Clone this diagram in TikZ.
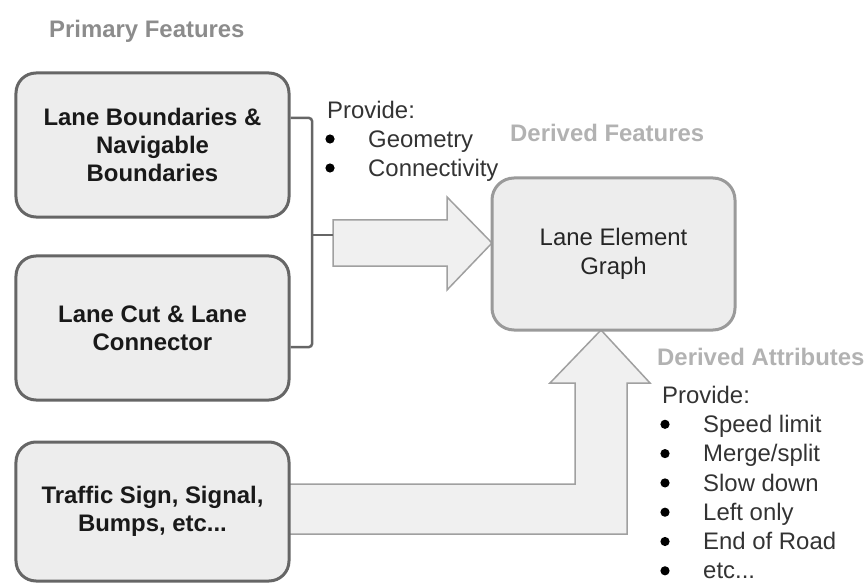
\documentclass[tikz,border=0pt]{standalone}
\usepackage{fontspec}
\setmainfont{Liberation Sans}
\usetikzlibrary{calc}
\definecolor{boxfill}{HTML}{EDEDED}
\definecolor{boxline}{HTML}{666666}
\definecolor{legline}{HTML}{9A9A9A}
\definecolor{arrowfill}{HTML}{F0F0F0}
\definecolor{arrowline}{HTML}{A0A0A0}
\definecolor{titlegray}{HTML}{8C8C8C}
\definecolor{palegray}{HTML}{B2B2B2}
\definecolor{bodytext}{HTML}{333333}
% empty bullet column of the "Provide:" lists; the dots are drawn by TikZ
\newcommand\blt{\hspace*{41bp}}
\begin{document}
\begin{tikzpicture}[x=1bp,y=-1bp,
  featbox/.style={draw=boxline, line width=3bp, fill=boxfill, rounded corners=20bp,
    minimum width=273bp, minimum height=144bp, align=center, inner sep=0pt,
    font=\bfseries\fontsize{24}{28.5}\selectfont, text=black!90},
  graphbox/.style={draw=legline, line width=3bp, fill=boxfill, rounded corners=22bp,
    minimum width=243bp, minimum height=152bp, align=center, inner sep=0pt,
    font=\fontsize{24}{28.5}\selectfont, text=black!85},
  bigarrow/.style={draw=arrowline, line width=1.5bp, fill=arrowfill},
  bracket/.style={draw=boxline, line width=2.5bp, rounded corners=3bp},
  heading/.style={anchor=base west, inner sep=0pt, font=\bfseries\fontsize{24}{29}\selectfont},
  listtext/.style={anchor=base west, inner sep=0pt, text=bodytext, font=\fontsize{24}{29}\selectfont},
  dot/.style={fill=black}
]
\useasboundingbox (0,0) rectangle (866,583);

% headings
\node[heading, text=titlegray] (prim) at (49,37.5) {Primary Features};
\node[heading, text=palegray] (derf) at (510,142) {Derived Features};
\node[heading, text=palegray] (dera) at (657,365) {Derived Attributes};

% coordinates where the bracket meets the wide arrow
\coordinate (jn) at (312,235);
\coordinate (ra) at (333,235);

% wide arrow into the graph
\draw[bigarrow] (333,220) -- (447,220) -- (447,197) -- (492,243) -- (447,290)
  -- (447,266) -- (333,266) -- cycle;

% bent arrow from the traffic box up to the graph
\draw[bigarrow] (289,484) -- (575,484) -- (575,383) -- (550,383) -- (601,330)
  -- (650,383) -- (627,383) -- (627,534) -- (289,534) -- cycle;

% feature boxes
\node[featbox] (lb) at (152.5,145) {Lane Boundaries \&\\Navigable\\Boundaries};
\node[featbox] (lc) at (152.5,328) {Lane Cut \& Lane\\Connector};
\node[featbox, minimum height=139bp] (ts) at (152.5,511.5) {Traffic Sign, Signal,\\Bumps, etc...};

% derived graph
\node[graphbox] (leg) at (613.5,254) {Lane Element\\Graph};

% bracket joining the two upper boxes
\draw[bracket] (lb.east |- 0,118) -| (jn) |- (lc.east |- 0,347);
\draw[bracket] (jn) -- (ra);

% lists
\node[listtext] (prov1) at (327,118.5) {\begin{tabular}[t]{@{}l@{}l@{}}
  \multicolumn{2}{@{}l@{}}{Provide:}\\
  \blt & Geometry\\
  \blt & Connectivity
\end{tabular}};
\node[listtext] (prov2) at (662,403.5) {\renewcommand\arraystretch{1.01}\begin{tabular}[t]{@{}l@{}l@{}}
  \multicolumn{2}{@{}l@{}}{Provide:}\\
  \blt & Speed limit\\
  \blt & Merge/split\\
  \blt & Slow down\\
  \blt & Left only\\
  \blt & End of Road\\
  \blt & etc...
\end{tabular}};

% bullet dots
\foreach \i in {1,2}
  \fill[dot] ($(prov1.base west)+(3,29*\i-8.5)$) circle (4.6bp);
\foreach \i in {1,...,6}
  \fill[dot] ($(prov2.base west)+(3,29.3*\i-8.5)$) circle (4.6bp);
\end{tikzpicture}
\end{document}
